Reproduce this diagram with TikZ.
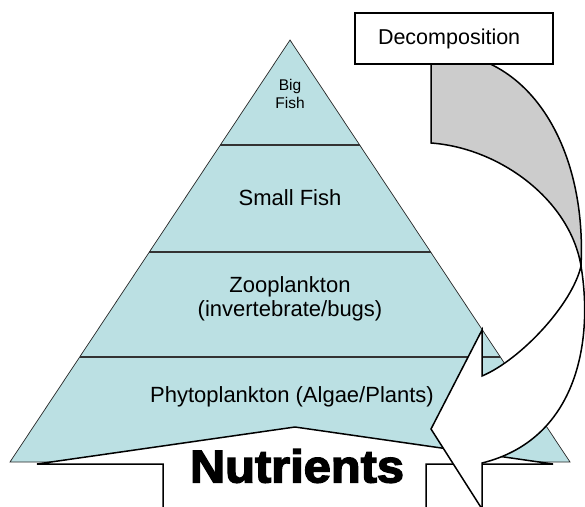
\documentclass[tikz,border=0pt]{standalone}
\usepackage{fontspec}
\setmainfont{Liberation Sans}
\newfontfamily\nutfont[FakeBold=3]{Liberation Sans}
\usepackage{xcolor}
\usetikzlibrary{calc}
\definecolor{pyrfill}{HTML}{BBE0E3}
\definecolor{bandgray}{HTML}{CCCCCC}
\definecolor{tierline}{HTML}{333333}

\begin{document}
\begin{tikzpicture}[
  x=1pt,y=-1pt,
  tier/.style={font=\fontsize{22}{24}\selectfont,align=center},
  outline/.style={draw=black,line width=1.5pt,line join=miter},
  tierrule/.style={draw=tierline,line width=2pt}
]
\useasboundingbox (0,0) rectangle (585,506);
\clip (0,0) rectangle (585,506);
% pyramid
\coordinate (apex) at (290,40);
\coordinate (bl) at (10,462);
\coordinate (br) at (570,462);
\filldraw[fill=pyrfill,draw=black!85,line width=0.7pt] (apex) -- (bl) -- (br) -- cycle;
\foreach \y in {145,252,357}{
  \draw[tierrule] ($(apex)!{(\y-40)/422}!(bl)$) -- ($(apex)!{(\y-40)/422}!(br)$);
}
% tiers
\node[tier,font=\fontsize{15.5}{17.5}\selectfont] (big) at (290,94) {Big\\Fish};
\node[tier] (small) at (290,198) {Small Fish};
\node[tier] (zoo) at (290,299) {Zooplankton\\(invertebrate/bugs)};
\node[tier] (phyto) at (292,397) {Phytoplankton (Algae/Plants)};
% nutrients arrow
\draw[outline,fill=white] (163,520) -- (163,464) -- (37,464) -- (295,427)
  -- (553,464) -- (426,464) -- (426,520) -- cycle;
\node[font={\nutfont\bfseries\fontsize{46}{46}\selectfont},xscale=1.06] (nut) at (297,466) {Nutrients};
% decomposition arrow, back side
\draw[outline,fill=bandgray] (431,55) -- (431,143)
  .. controls (500,148) and (570,200) .. (581,266)
  .. controls (586,165) and (545,80) .. (475,58) -- cycle;
% decomposition arrow, front side
\draw[outline,fill=white] (581,266)
  .. controls (594,345) and (575,440) .. (482,463)
  -- (482,509) -- (431,429) -- (482,330) -- (482,376)
  .. controls (520,360) and (572,305) .. (581,266) -- cycle;
% label box
\node[draw,line width=1.5pt,fill=white,minimum width=198,minimum height=51,
  text width=152,align=left,font=\fontsize{21.5}{24}\selectfont] (dec) at (454,38.5) {Decomposition};
\end{tikzpicture}
\end{document}
